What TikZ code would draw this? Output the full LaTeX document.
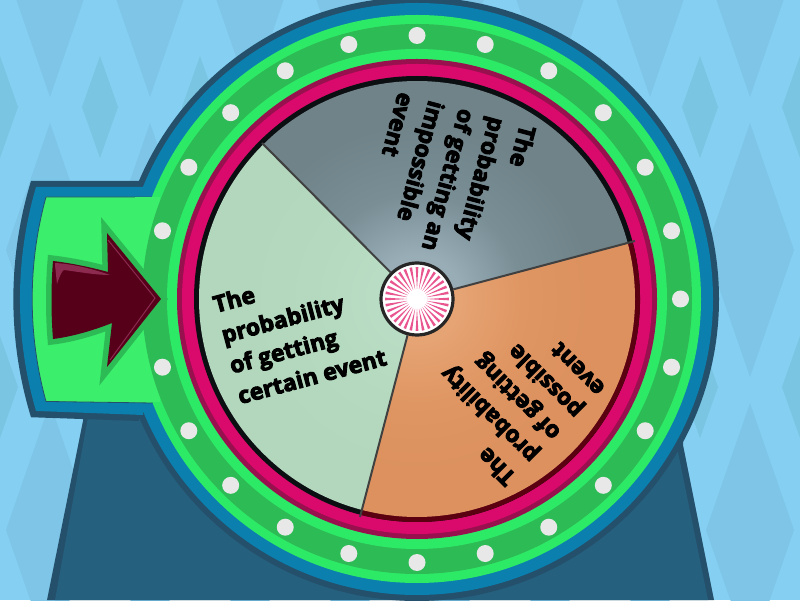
\documentclass[tikz,border=0pt]{standalone}
\usepackage{fontspec}
\setmainfont{Open Sans}[BoldFeatures={FakeBold=4}]
\usetikzlibrary{calc}
\definecolor{skybg}{HTML}{85CFF2}
\definecolor{bigdia}{HTML}{7EC5E8}
\definecolor{smalldia}{HTML}{79C5E2}
\definecolor{navyc}{HTML}{24506B}
\definecolor{bluec}{HTML}{0B7FAE}
\definecolor{standc}{HTML}{25607E}
\definecolor{brightc}{HTML}{2DEA66}
\definecolor{blockc}{HTML}{3BEE6B}
\definecolor{darkgc}{HTML}{2DBB55}
\definecolor{pinkc}{HTML}{D90A6B}
\definecolor{dpinkc}{HTML}{99104F}
\definecolor{arrowc}{HTML}{56001A}
\definecolor{arrowl}{HTML}{8C2A50}
\definecolor{dotc}{HTML}{E8E8E8}
\definecolor{rayc}{HTML}{E8558F}
\definecolor{rimc}{HTML}{0C0F12}
\definecolor{rimo}{HTML}{5A0010}
\definecolor{gA}{HTML}{98ADB6}
\definecolor{gB}{HTML}{7A8E96}
\definecolor{gC}{HTML}{6F8389}
\definecolor{oA}{HTML}{E6A373}
\definecolor{oB}{HTML}{DF9663}
\definecolor{oC}{HTML}{DC915E}
\definecolor{mA}{HTML}{B8DDC4}
\definecolor{mB}{HTML}{B4D9BE}
\definecolor{mC}{HTML}{B2D7BC}
\pgfdeclareradialshading{grayslice}{\pgfpoint{0bp}{0bp}}{color(0bp)=(gA); color(5bp)=(gA); color(12bp)=(gB); color(20bp)=(gC); color(50bp)=(gC)}
\pgfdeclareradialshading{orangeslice}{\pgfpoint{0bp}{0bp}}{color(0bp)=(oA); color(5bp)=(oA); color(12bp)=(oB); color(20bp)=(oC); color(50bp)=(oC)}
\pgfdeclareradialshading{mintslice}{\pgfpoint{0bp}{0bp}}{color(0bp)=(mA); color(5bp)=(mA); color(12bp)=(mB); color(20bp)=(mC); color(50bp)=(mC)}
\tikzset{
  slicetext/.style={font=\bfseries\fontsize{23}{31.5}\selectfont,align=left,anchor=west,text=black,inner sep=0pt},
  divider/.style={draw=black!75,line width=2pt},
  hubnode/.style={circle,minimum size=72pt,inner sep=0pt,fill=white,draw=black!85,line width=3.2pt},
}
\begin{document}
\begin{tikzpicture}[x=1pt,y=1pt]
\useasboundingbox (0,0) rectangle (800,600);
\clip (0,0) rectangle (800,600);
\fill[skybg] (0,0) rectangle (800,600);
% background diamonds (y measured upward)
\foreach \cx in {-50,50,...,850}{
  \foreach \cy in {630,350,70}{
    \fill[bigdia] (\cx,\cy+127) -- (\cx+44,\cy) -- (\cx,\cy-127) -- (\cx-44,\cy) -- cycle;
  }
}
\foreach \cx in {0,100,...,800}{
  \foreach \cy in {493,213}{
    \fill[smalldia] (\cx,\cy+51) -- (\cx+18,\cy) -- (\cx,\cy-51) -- (\cx-18,\cy) -- cycle;
  }
}
\coordinate (c) at (417,301);
% stand
\fill[navyc] (83,179) -- (47,0) -- (714,0) -- (683,155) -- (683,300) -- (83,300) -- cycle;
\fill[standc] (88,183) -- (55,0) -- (708,0) -- (677,153) -- (677,300) -- (88,300) -- cycle;
% navy layer
\fill[navyc] (c) circle (302);
\fill[navyc] (139,419) -- (31,419) arc[start angle=163,end angle=197,radius=404] -- (139,179) -- cycle;
% blue layer
\fill[bluec] (c) circle (296);
\fill[bluec] (143,413) -- (36,413) arc[start angle=163.7,end angle=196.3,radius=399] -- (143,185) -- cycle;
% green block
\fill[blockc,draw=navyc,line width=.8pt] (153,403) -- (46,403) arc[start angle=164.6,end angle=195.4,radius=385] -- (153,197) -- cycle;
% rings
\fill[brightc] (c) circle (284);
\fill[blockc] (135,197.5) rectangle (160,402.5);
\fill[darkgc] (c) circle (275);
\fill[brightc] (c) circle (250);
\fill[dpinkc] (c) circle (240);
\fill[pinkc] (c) circle (235);
\fill[rimc] (c) circle (223);
\fill[rimo] (c) -- ($(c)+(14.9:223)$) arc[start angle=14.9,end angle=-104.7,radius=223] -- cycle;
% dots
\foreach \a in {0,15,...,345}{
  \fill[dotc] ($(c)+(\a:263.5)$) circle (8.5);
}
% arrow halo and arrow
\path[draw=darkgc,fill=darkgc,line width=11pt,line join=miter,miter limit=6]
  (161,301) -- (107,367) -- (108,328) .. controls (90,333) and (70,337) .. (53,339) .. controls (51,315) and (51,285) .. (53,261) .. controls (70,263) and (92,269) .. (112,277) -- (107,233) -- cycle;
\fill[arrowc]
  (161,301) -- (107,367) -- (108,328) .. controls (90,333) and (70,337) .. (53,339) .. controls (51,315) and (51,285) .. (53,261) .. controls (70,263) and (92,269) .. (112,277) -- (107,233) -- cycle;
\fill[arrowl] (55,335) -- (57,316) .. controls (60,325) and (62,329) .. (64,330) .. controls (80,328) and (95,325) .. (110,325) .. controls (90,332) and (72,336) .. (55,337) -- cycle;
\draw[arrowl,line width=1pt] (108,360) -- (155,302) -- (110,240);
% wheel slices
\begin{scope}
  \clip (c) -- ($(c)+(135.1:218)$) arc[start angle=135.1,end angle=14.9,radius=218] -- cycle;
  \shade[shading=grayslice] (c) circle (218);
\end{scope}
\begin{scope}
  \clip (c) -- ($(c)+(14.9:218)$) arc[start angle=14.9,end angle=-104.7,radius=218] -- cycle;
  \shade[shading=orangeslice] (c) circle (218);
\end{scope}
\begin{scope}
  \clip (c) -- ($(c)+(255.3:218)$) arc[start angle=255.3,end angle=135.1,radius=218] -- cycle;
  \shade[shading=mintslice] (c) circle (218);
\end{scope}
% hub
\node[hubnode] (hub) at (c) {};
\foreach \a in {0,11.25,...,349}{
  \fill[rayc] ($(c)+(\a:9)$) -- ($(c)+(\a+2.4:32)$) -- ($(c)+(\a-2.4:32)$) -- cycle;
}
\fill[white] (c) circle (10);
% dividers
\coordinate (d1) at (262,457);
\coordinate (d2) at (635,359);
\coordinate (d3) at (360,83);
\draw[divider] (hub) -- (d1);
\draw[divider] (hub) -- (d2);
\draw[divider] (hub) -- (d3);
% labels
\node[slicetext,rotate=-105] (t1) at ($(c)+(75:196)$) {The\\probability\\of getting an\\impossible\\event};
\node[slicetext,rotate=135] (t2) at ($(c)+(-45:196)$) {The\\probability\\of getting\\possible\\event};
\node[slicetext,rotate=15] (t3) at ($(c)+(195:198)$) {The\\probability\\of getting\\certain event};
\end{tikzpicture}
\end{document}
